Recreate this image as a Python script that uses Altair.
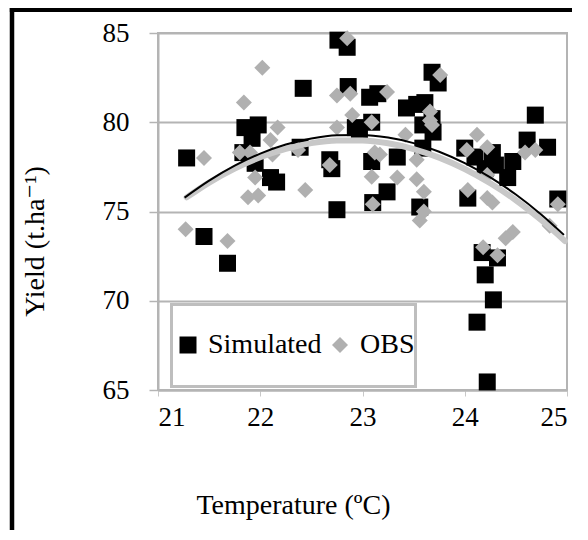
import altair as alt
import pandas as pd

# ---- data ----
sim_t = [21.28, 21.45, 21.68, 21.85, 21.98, 21.92, 21.83, 21.95, 22.10, 22.16,
         22.39, 22.42, 22.76, 22.85, 22.86, 22.93, 23.07, 23.15, 23.09, 22.68,
         22.70, 23.09, 23.34, 23.24, 22.75, 23.10, 23.56, 23.43, 23.53, 23.61,
         23.59, 23.59, 23.68, 23.74, 23.68, 23.69, 24.69, 24.61, 24.81, 24.00,
         24.10, 24.27, 24.30, 24.47, 24.42, 24.20, 24.03, 24.91, 24.17, 24.32,
         24.20, 24.28, 24.12, 24.22, 22.97]
sim_y = [78.0, 73.6, 72.1, 79.7, 79.85, 79.1, 78.3, 77.7, 76.9, 76.65,
         78.6, 81.9, 84.6, 84.2, 82.0, 79.7, 81.4, 81.6, 80.0, 77.9,
         77.4, 77.8, 78.05, 76.1, 75.1, 75.5, 75.25, 80.8, 81.0, 81.1,
         79.85, 78.55, 82.8, 82.2, 80.2, 79.45, 80.4, 79.0, 78.6, 78.55,
         78.05, 78.3, 77.6, 77.8, 76.9, 77.4, 75.75, 75.7, 72.7, 72.4,
         71.45, 70.05, 68.8, 65.45, 79.6]

obs_t = [21.27, 21.45, 21.68, 21.84, 22.02, 22.17, 22.10, 21.90, 22.12, 21.95,
         21.88, 21.98, 21.80, 22.85, 22.75, 22.88, 23.24, 22.90, 23.09, 22.75,
         23.42, 22.37, 22.68, 23.12, 23.17, 23.53, 23.09, 23.34, 23.53, 22.44,
         23.10, 23.60, 23.60, 23.56, 23.76, 23.66, 23.68, 24.12, 24.02, 24.22,
         24.59, 24.69, 24.22, 24.03, 24.22, 24.27, 24.91, 24.47, 24.40, 24.18,
         24.32, 24.83, 23.66]
obs_y = [74.0, 78.0, 73.35, 81.1, 83.05, 79.7, 79.0, 78.3, 78.2, 76.9,
         75.8, 75.9, 78.3, 84.7, 81.5, 81.6, 81.7, 80.4, 80.0, 79.7,
         79.3, 78.45, 77.6, 78.3, 78.2, 77.9, 76.95, 76.9, 76.8, 76.2,
         75.4, 76.1, 75.0, 74.5, 82.65, 80.6, 79.85, 79.3, 78.45, 78.6,
         78.3, 78.45, 77.05, 76.2, 75.75, 75.5, 75.4, 73.85, 73.5, 73.0,
         72.55, 74.2, 80.1]

# trend curves
fit_sim_t = [21.26, 21.5, 21.75, 22.0, 22.25, 22.5, 22.75, 23.0, 23.25, 23.5,
             23.75, 24.0, 24.25, 24.5, 24.75, 24.97]
fit_sim_y = [75.78, 76.73, 77.57, 78.24, 78.75, 79.09, 79.27, 79.29, 79.14, 78.83,
             78.35, 77.71, 76.91, 75.95, 74.82, 73.69]
fit_obs_t = [21.28, 21.5, 21.75, 22.0, 22.25, 22.5, 22.75, 23.0, 23.25, 23.5,
             23.75, 24.0, 24.25, 24.5, 24.75, 24.98]
fit_obs_y = [75.79, 76.62, 77.41, 78.04, 78.51, 78.83, 78.98, 78.98, 78.82, 78.50,
             78.02, 77.38, 76.58, 75.63, 74.51, 73.35]

series_names = ["Simulated", "OBS"]
x_ticks = [21, 22, 23, 24, 25]
y_ticks = [65, 70, 75, 80, 85]

pts = pd.DataFrame({
    "T": sim_t + obs_t,
    "Y": sim_y + obs_y,
    "series": ["Simulated"] * len(sim_t) + ["OBS"] * len(obs_t),
})
fit_sim = pd.DataFrame({"T": fit_sim_t, "Y": fit_sim_y})
fit_obs = pd.DataFrame({"T": fit_obs_t, "Y": fit_obs_y})

FONT = "'Liberation Serif', 'Times New Roman', 'DejaVu Serif', serif"
GRID = "#b4b4b4"

x_enc = alt.X(
    "T:Q",
    scale=alt.Scale(domain=[21, 25], nice=False, zero=False),
    axis=alt.Axis(
        values=x_ticks, format="d", grid=False, title="Temperature (ºC)",
        labelFont=FONT, labelFontSize=27, labelColor="#000000",
        titleFont=FONT, titleFontSize=28, titleColor="#000000", titleFontWeight="normal",
        tickSize=6, tickColor="#c8c8c8", tickWidth=1,
        labelPadding=8, domainColor=GRID, domainWidth=2,
        titleX=135, titleY=123, titleAlign="center", titleBaseline="alphabetic",
    ),
)
y_enc = alt.Y(
    "Y:Q",
    scale=alt.Scale(domain=[65, 85], nice=False, zero=False),
    axis=alt.Axis(
        values=y_ticks, format="d", grid=True, gridColor=GRID, gridWidth=2,
        title="Yield (t.ha⁻¹)",
        labelFont=FONT, labelFontSize=27, labelColor="#000000",
        titleFont=FONT, titleFontSize=28, titleColor="#000000", titleFontWeight="normal",
        tickSize=9, tickColor=GRID, tickWidth=1.5,
        labelPadding=20, domainColor=GRID, domainWidth=2,
        titleAngle=270, titleX=-123, titleY=208,
        titleAlign="center", titleBaseline="middle",
    ),
)

legend = alt.Legend(
    title=None, orient="none", legendX=16, legendY=298, direction="horizontal",
    padding=0, labelFont=FONT, labelFontSize=28, labelColor="#000000",
    symbolSize=289, symbolStrokeWidth=0, labelOffset=6, columnPadding=4,
)

points = alt.Chart(pts).mark_point(filled=True, opacity=1, strokeWidth=0).encode(
    x=x_enc,
    y=y_enc,
    color=alt.Color("series:N", legend=legend,
                    scale=alt.Scale(domain=series_names, range=["#000000", "#b0b0b0"])),
    shape=alt.Shape("series:N", legend=legend,
                    scale=alt.Scale(domain=series_names, range=["square", "diamond"])),
    size=alt.Size("series:N", legend=None,
                  scale=alt.Scale(domain=series_names, range=[289, 256])),
)

obs_line = alt.Chart(fit_obs).mark_line(
    color="#c8c8c8", strokeWidth=6, interpolate="monotone", strokeCap="round"
).encode(x="T:Q", y="Y:Q")
sim_line = alt.Chart(fit_sim).mark_line(
    color="#000000", strokeWidth=2, interpolate="monotone"
).encode(x="T:Q", y="Y:Q")

one = pd.DataFrame({"k": [0]})
# frame of the legend box (decoration)
legend_box = alt.Chart(one).mark_rect(
    fill="white", stroke="#bebebe", strokeWidth=3
).encode(x=alt.value(13.5), x2=alt.value(257.5), y=alt.value(271.5), y2=alt.value(353.5))

# outer black frame of the figure (decoration)
frame_left = alt.Chart(one).mark_rule(
    color="black", strokeWidth=4.5
).encode(x=alt.value(-146), y=alt.value(-26), y2=alt.value(520))
frame_top = alt.Chart(one).mark_rule(
    color="black", strokeWidth=5
).encode(x=alt.value(-148.2), x2=alt.value(440), y=alt.value(-23.5))

chart = alt.layer(points, obs_line, sim_line, legend_box, frame_left, frame_top).properties(
    width=409, height=357,
    autosize=alt.AutoSizeParams(type="none"),
    padding={"left": 150, "top": 25, "right": 5, "bottom": 140},
    background="white",
).configure_view(
    stroke=GRID, strokeWidth=2,
)

chart.save("out.html", embed_options={"renderer": "svg", "actions": False})
